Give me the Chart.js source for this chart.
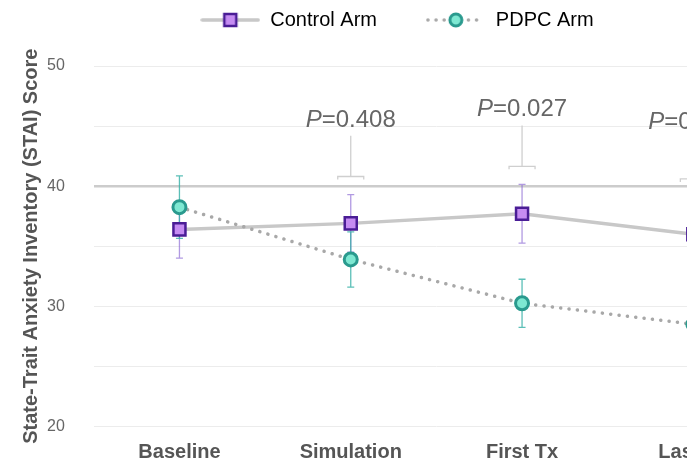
<!DOCTYPE html>
<html>
<head>
<meta charset="utf-8">
<script src="https://cdn.jsdelivr.net/npm/chart.js@4.4.1/dist/chart.umd.min.js"></script>
<style>
  html, body { margin: 0; padding: 0; background: #fff; overflow: hidden; }
  #wrap { width: 790px; height: 465px; position: relative; }
</style>
</head>
<body>
<div id="wrap"><canvas id="stai-chart"></canvas></div>
<script>
// values
const timepoints = ["Baseline", "Simulation", "First Tx", "Last Tx"];
const controlMean = [36.4, 36.9, 37.7, 36.0];
const controlErr = [2.4, 2.4, 2.45, 3.1];
const pdpcMean = [38.25, 33.9, 30.25, 28.5];
const pdpcErr = [2.6, 2.3, 2.0, 2.0];
const pValues = [null, "0.408", "0.027", "0.004"];
const yLabelTicks = [20, 30, 40, 50];

const FONT = "'Liberation Sans', Arial, Helvetica, sans-serif";
const TEXT = "#555";

// legend swatch: line + marker drawn on a small canvas
function swatch(kind) {
  const c = document.createElement("canvas");
  c.width = 60; c.height = 20;
  const g = c.getContext("2d");
  g.lineCap = "round";
  if (kind === "control") {
    g.strokeStyle = "#c8c8c8"; g.lineWidth = 3.5;
    g.beginPath(); g.moveTo(2, 10); g.lineTo(58, 10); g.stroke();
    g.fillStyle = "#c58cf2"; g.strokeStyle = "#4a1d96"; g.lineWidth = 2.5;
    g.fillRect(24, 4, 12, 12); g.strokeRect(24, 4, 12, 12);
  } else {
    g.strokeStyle = "#a8a8a8"; g.lineWidth = 3.5; g.setLineDash([0.1, 8]);
    g.beginPath(); g.moveTo(2, 10); g.lineTo(58, 10); g.stroke();
    g.setLineDash([]);
    g.fillStyle = "#7ee8d2"; g.strokeStyle = "#2a9a8e"; g.lineWidth = 3;
    g.beginPath(); g.arc(30, 10, 6, 0, Math.PI * 2); g.fill(); g.stroke();
  }
  return c;
}

// error bars under the markers
const errorBars = {
  id: "errorBars",
  beforeDatasetsDraw(chart) {
    const { ctx, scales: { x, y } } = chart;
    const sets = [
      { mean: controlMean, err: controlErr, color: "rgba(135,100,210,0.65)" },
      { mean: pdpcMean, err: pdpcErr, color: "rgba(50,175,165,0.8)" }
    ];
    ctx.save();
    ctx.lineWidth = 1.3;
    sets.forEach(s => {
      ctx.strokeStyle = s.color;
      s.mean.forEach((m, i) => {
        const px = x.getPixelForValue(i);
        const top = y.getPixelForValue(m + s.err[i]);
        const bot = y.getPixelForValue(m - s.err[i]);
        ctx.beginPath();
        ctx.moveTo(px, top); ctx.lineTo(px, bot);
        ctx.moveTo(px - 3.5, top); ctx.lineTo(px + 3.5, top);
        ctx.moveTo(px - 3.5, bot); ctx.lineTo(px + 3.5, bot);
        ctx.stroke();
      });
    });
    ctx.restore();
  }
};

// P-value brackets above each timepoint
const pBrackets = {
  id: "pBrackets",
  afterDatasetsDraw(chart) {
    const { ctx, scales: { x, y } } = chart;
    ctx.save();
    pValues.forEach((p, i) => {
      if (!p) return;
      const hi = Math.max(controlMean[i] + controlErr[i], pdpcMean[i] + pdpcErr[i]) + 1.5;
      const px = x.getPixelForValue(i);
      const capY = y.getPixelForValue(hi);
      const stemY = y.getPixelForValue(hi + 3.4);
      ctx.strokeStyle = "#cfcfcf";
      ctx.lineWidth = 1.3;
      ctx.beginPath();
      ctx.moveTo(px - 13, capY + 3); ctx.lineTo(px - 13, capY);
      ctx.lineTo(px + 13, capY); ctx.lineTo(px + 13, capY + 3);
      ctx.moveTo(px, capY); ctx.lineTo(px, stemY);
      ctx.stroke();

      const baseY = y.getPixelForValue(hi + 4.15);
      ctx.fillStyle = "#666";
      ctx.textBaseline = "alphabetic";
      ctx.textAlign = "left";
      ctx.font = "italic 24px " + FONT;
      const wP = ctx.measureText("P").width;
      ctx.font = "24px " + FONT;
      const rest = "=" + p;
      const wR = ctx.measureText(rest).width;
      const start = px - (wP + wR) / 2;
      ctx.font = "italic 24px " + FONT;
      ctx.fillText("P", start, baseY);
      ctx.font = "24px " + FONT;
      ctx.fillText(rest, start + wP, baseY);
    });
    ctx.restore();
  }
};

// extra room between legend and plot
const legendSpacer = {
  id: "legendSpacer",
  beforeInit(chart) {
    const fit = chart.legend.fit;
    chart.legend.fit = function () {
      fit.call(this);
      this.height += 26;
    };
  }
};

new Chart(document.getElementById("stai-chart"), {
  type: "line",
  data: {
    labels: timepoints,
    datasets: [
      {
        label: "Control Arm",
        data: controlMean,
        borderColor: "#c8c8c8",
        borderWidth: 3.5,
        pointStyle: "rect",
        pointRadius: 8.5,
        pointHoverRadius: 8.5,
        pointBackgroundColor: "#c58cf2",
        pointBorderColor: "#4a1d96",
        pointBorderWidth: 2.5,
        tension: 0,
        order: 2
      },
      {
        label: "PDPC Arm",
        data: pdpcMean,
        borderColor: "#a8a8a8",
        borderWidth: 3.5,
        borderDash: [0.1, 8.3],
        borderCapStyle: "round",
        pointStyle: "circle",
        pointRadius: 6.5,
        pointHoverRadius: 6.5,
        pointBackgroundColor: "#7ee8d2",
        pointBorderColor: "#2a9a8e",
        pointBorderWidth: 3,
        tension: 0,
        order: 1
      }
    ]
  },
  options: {
    responsive: true,
    maintainAspectRatio: false,
    animation: false,
    layout: { padding: { left: 15, right: 0, top: 0, bottom: 0 } },
    plugins: {
      tooltip: { enabled: false },
      legend: {
        position: "top",
        labels: {
          usePointStyle: true,
          pointStyleWidth: 60,
          boxHeight: 20,
          padding: 10,
          color: TEXT,
          font: { family: FONT, size: 20 },
          generateLabels() {
            return [
              { text: "Control Arm       ", pointStyle: swatch("control"), fillStyle: "#fff", strokeStyle: "#fff", lineWidth: 0, datasetIndex: 0 },
              { text: "PDPC Arm  ", pointStyle: swatch("pdpc"), fillStyle: "#fff", strokeStyle: "#fff", lineWidth: 0, datasetIndex: 1 }
            ];
          }
        }
      }
    },
    scales: {
      x: {
        offset: true,
        grid: { display: false, drawTicks: false },
        border: { display: false },
        ticks: { color: TEXT, padding: 14, font: { family: FONT, size: 20, weight: "bold" } },
        afterFit: s => { s.height -= 14; }
      },
      y: {
        min: 20,
        max: 50,
        border: { display: false },
        grid: {
          drawTicks: false,
          color: ctx => ctx.tick && ctx.tick.value === 40 ? "#cccccc" : "#ececec",
          lineWidth: ctx => ctx.tick && ctx.tick.value === 40 ? 2.5 : 1
        },
        ticks: {
          stepSize: 5,
          padding: 29,
          color: "#666",
          font: { family: FONT, size: 16 },
          callback: v => yLabelTicks.includes(v) ? v : ""
        },
        title: {
          display: true,
          text: "State-Trait Anxiety Inventory (STAI) Score",
          color: TEXT,
          font: { family: FONT, size: 20, weight: "bold" },
          padding: { top: 4, bottom: 4 }
        },
        afterFit: s => { s.width -= 29; }
      }
    }
  },
  plugins: [legendSpacer, errorBars, pBrackets]
});
</script>
</body>
</html>
